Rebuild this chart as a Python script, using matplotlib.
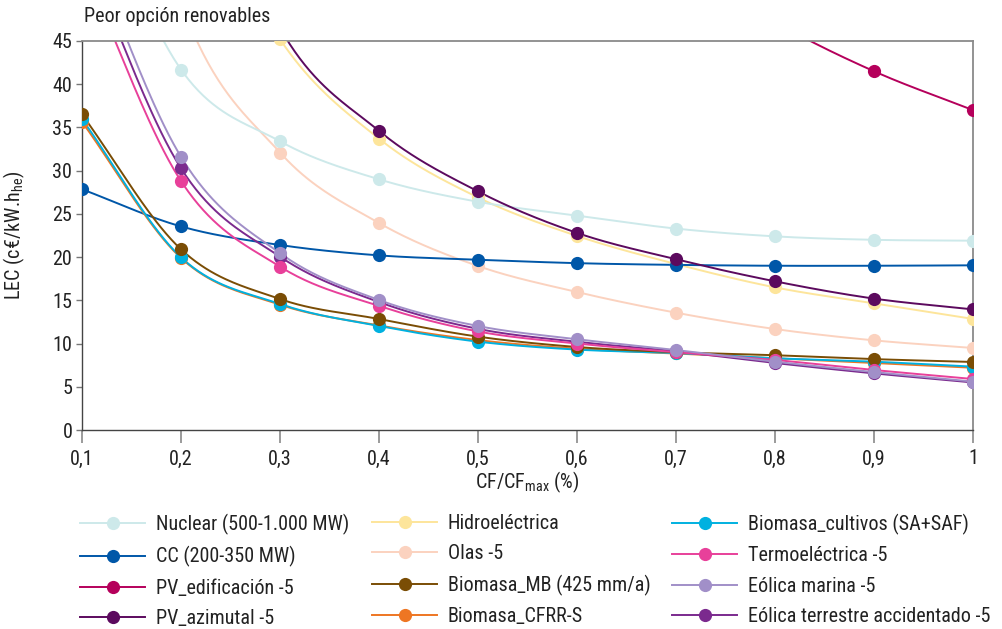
import numpy as np
import matplotlib
matplotlib.use("Agg")
import matplotlib.pyplot as plt
from matplotlib.lines import Line2D

FONT = "Roboto Condensed"
plt.rcParams["font.family"] = [FONT, "DejaVu Sans"]
plt.rcParams["mathtext.fontset"] = "custom"
plt.rcParams["mathtext.rm"] = FONT
plt.rcParams["mathtext.it"] = FONT
plt.rcParams["mathtext.bf"] = FONT

# Capacity factor ratio (x) and levelised cost (c€/kWh_e) per technology
cf = [0.1, 0.2, 0.3, 0.4, 0.5, 0.6, 0.7, 0.8, 0.9, 1.0]
xtick_labels = ["0,1", "0,2", "0,3", "0,4", "0,5", "0,6", "0,7", "0,8", "0,9", "1"]

nuclear = [66.0, 41.7, 33.4, 29.0, 26.4, 24.8, 23.3, 22.4, 22.0, 21.9]
cc = [27.85, 23.55, 21.4, 20.2, 19.7, 19.3, 19.1, 19.0, 19.0, 19.05]
pv_edificacion = [400.0, 199.0, 131.0, 98.0, 78.0, 64.0, 54.5, 47.2, 41.5, 37.0]
pv_azimutal = [150.0, 75.0, 46.5, 34.6, 27.6, 22.8, 19.75, 17.2, 15.2, 13.95]
hidroelectrica = [136.0, 67.7, 45.2, 33.7, 26.9, 22.45, 19.2, 16.5, 14.65, 12.85]
olas = [95.0, 49.5, 32.1, 23.95, 18.97, 15.96, 13.57, 11.68, 10.37, 9.49]
biomasa_mb = [36.5, 20.9, 15.15, 12.84, 10.8, 9.6, 9.0, 8.65, 8.2, 7.87]
biomasa_cfrr = [35.65, 19.9, 14.5, 12.1, 10.4, 9.4, 8.85, 8.3, 7.75, 7.2]
biomasa_cultivos = [35.98, 19.98, 14.58, 12.03, 10.22, 9.3, 8.9, 8.3, 7.9, 7.33]
termoelectrica = [54.0, 28.8, 18.9, 14.35, 11.4, 10.0, 9.0, 8.1, 6.94, 5.9]
eolica_marina = [58.0, 31.6, 20.45, 15.04, 12.03, 10.5, 9.25, 7.9, 6.7, 5.6]
eolica_terrestre = [56.0, 30.27, 20.05, 14.8, 11.7, 10.2, 9.1, 7.75, 6.55, 5.5]

series = {
    "Nuclear (500-1.000 MW)": (nuclear, "#cde9ea"),
    "CC (200-350 MW)": (cc, "#0057a8"),
    "PV_edificación -5": (pv_edificacion, "#b5005b"),
    "PV_azimutal -5": (pv_azimutal, "#5c0a5e"),
    "Hidroeléctrica": (hidroelectrica, "#fde59b"),
    "Olas -5": (olas, "#fbd2bf"),
    "Biomasa_MB (425 mm/a)": (biomasa_mb, "#7a4d05"),
    "Biomasa_CFRR-S": (biomasa_cfrr, "#ee7623"),
    "Biomasa_cultivos (SA+SAF)": (biomasa_cultivos, "#00b1e0"),
    "Termoeléctrica -5": (termoelectrica, "#e8409a"),
    "Eólica marina -5": (eolica_marina, "#a18fc8"),
    "Eólica terrestre accidentado -5": (eolica_terrestre, "#7b2a8e"),
}

draw_order = [
    "Hidroeléctrica", "Olas -5", "Nuclear (500-1.000 MW)", "CC (200-350 MW)",
    "PV_edificación -5", "PV_azimutal -5", "Biomasa_CFRR-S",
    "Biomasa_cultivos (SA+SAF)", "Biomasa_MB (425 mm/a)",
    "Eólica terrestre accidentado -5", "Termoeléctrica -5", "Eólica marina -5",
]


def smooth(x, y, n=40):
    """Cardinal (Catmull-Rom) spline through the points, like smoothed chart lines."""
    x = np.asarray(x, float)
    y = np.asarray(y, float)
    m = np.empty_like(y)
    m[1:-1] = (y[2:] - y[:-2]) / 2.0
    m[0] = y[1] - y[0]
    m[-1] = y[-1] - y[-2]
    xs, ys = [], []
    for i in range(len(x) - 1):
        t = np.linspace(0, 1, n, endpoint=(i == len(x) - 2))
        h00 = 2 * t**3 - 3 * t**2 + 1
        h10 = t**3 - 2 * t**2 + t
        h01 = -2 * t**3 + 3 * t**2
        h11 = t**3 - t**2
        xs.append(x[i] + t * (x[i + 1] - x[i]))
        ys.append(h00 * y[i] + h10 * m[i] + h01 * y[i + 1] + h11 * m[i + 1])
    return np.concatenate(xs), np.concatenate(ys)


fig = plt.figure(figsize=(10.02, 6.29), dpi=100)
ax = fig.add_axes([82 / 1002, 1 - 430 / 629, 891 / 1002, 389 / 629])

LW = 1.4
MS = 9.5
FS = 14.5
for z, name in enumerate(draw_order):
    vals, col = series[name]
    sx, sy = smooth(cf, vals)
    ax.plot(sx, sy, color=col, lw=LW, zorder=2 + z * 0.01, solid_capstyle="butt")
    ax.plot(cf, vals, "o", color=col, ms=MS, mec="none", zorder=3 + z * 0.01,
            clip_on=True)

ax.set_xlim(0.1, 1.0)
ax.set_ylim(0, 45)
ax.set_xticks(cf)
ax.set_xticklabels(xtick_labels)
ax.set_yticks(np.arange(0, 46, 5))

for s in ("top", "right"):
    ax.spines[s].set_color("#8a8a8a")
    ax.spines[s].set_linewidth(1.3)
for s in ("left", "bottom"):
    ax.spines[s].set_color("#444444")
    ax.spines[s].set_linewidth(1.0)

ax.tick_params(axis="x", direction="out", length=9, width=1.2, color="#8a8a8a",
               labelsize=FS, pad=5, labelcolor="#222222")
ax.tick_params(axis="y", direction="out", length=4, width=1.0, color="#777777",
               labelsize=FS, pad=3, labelcolor="#222222")

ax.set_xlabel(r"CF/CF$_{\mathrm{max}}$ (%)", fontsize=FS, color="#222222", labelpad=1)
ax.set_ylabel(r"LEC (c€/kW.h$_{\mathrm{he}}$)", fontsize=FS, color="#222222")
ax.yaxis.set_label_coords(-0.0615, 0.5)

fig.text(84 / 1002, 1 - 17 / 629, "Peor opción renovables", fontsize=FS,
         color="#222222", ha="left", va="center")

# Legend: three columns of four entries below the plot
names = list(series.keys())
cols_x = [80, 372, 672]
for c in range(3):
    handles = []
    for name in names[c * 4:(c + 1) * 4]:
        vals, col = series[name]
        handles.append(Line2D([0], [0], color=col, lw=LW, marker="o", ms=9.5,
                              mec="none", label=name))
    leg = fig.legend(handles=handles, loc="upper left",
                     bbox_to_anchor=(cols_x[c] / 1002, 1 - 514 / 629),
                     frameon=False, fontsize=FS, handlelength=3.25,
                     handletextpad=0.5, labelspacing=0.56, borderaxespad=0,
                     borderpad=0, markerscale=1.0)
    for t in leg.get_texts():
        t.set_color("#222222")

fig.savefig("out.png", dpi=100)
